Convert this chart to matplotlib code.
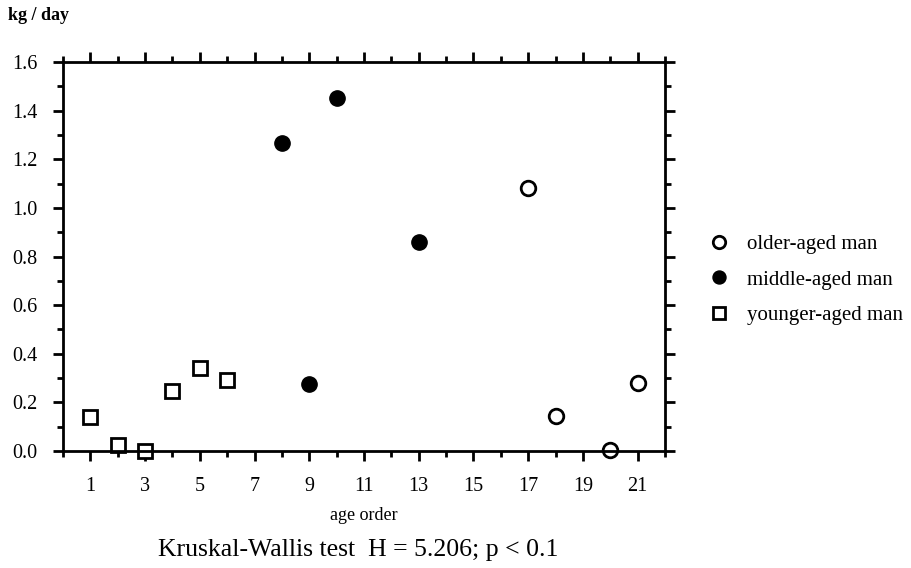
import matplotlib.pyplot as plt
from matplotlib.ticker import MultipleLocator

plt.rcParams['font.family'] = ['Liberation Serif', 'DejaVu Serif']

# data
young_x = [1, 2, 3, 4, 5, 6]
young_y = [0.14, 0.025, 0.0, 0.245, 0.34, 0.29]
middle_x = [8, 9, 10, 13]
middle_y = [1.265, 0.275, 1.45, 0.86]
older_x = [17, 18, 20, 21]
older_y = [1.08, 0.145, 0.005, 0.28]

x_ticks = list(range(1, 22, 2))
y_ticks = [0.0, 0.2, 0.4, 0.6, 0.8, 1.0, 1.2, 1.4, 1.6]

fig = plt.figure(figsize=(9.11, 5.68), dpi=100)
ax = fig.add_axes([63 / 911, 1 - 451 / 568, (665 - 63) / 911, (451 - 62) / 568])

ax.plot(older_x, older_y, 'o', ms=10.5, mfc='white', mec='black', mew=2.0,
        clip_on=False, label='older-aged man')
ax.plot(middle_x, middle_y, 'o', ms=11, mfc='black', mec='black',
        clip_on=False, label='middle-aged man')
ax.plot(young_x, young_y, 's', ms=10, mfc='white', mec='black', mew=2.0,
        clip_on=False, label='younger-aged man')

ax.set_xlim(0, 22)
ax.set_ylim(0, 1.6)
ax.set_xticks(x_ticks)
ax.set_yticks(y_ticks)
ax.set_yticklabels([f'{v:.1f}' for v in y_ticks])
ax.xaxis.set_minor_locator(MultipleLocator(1))
ax.yaxis.set_minor_locator(MultipleLocator(0.1))
ax.tick_params(which='both', direction='out', top=True, right=True,
               width=2, labelsize=14.5, colors='black')
ax.tick_params(which='major', length=7.5)
ax.tick_params(which='minor', length=4.5)
ax.tick_params(axis='x', pad=11)
ax.tick_params(axis='y', pad=11)
for s in ax.spines.values():
    s.set_linewidth(2)

ax.set_xlabel('age order', fontsize=13, labelpad=8)
fig.text(8 / 911, 1 - 16 / 568, 'kg / day', fontsize=13, fontweight='bold',
         va='center', ha='left')
fig.text(358 / 911, 1 - 550 / 568, 'Kruskal-Wallis test  H = 5.206; p < 0.1',
         fontsize=18.5, va='center', ha='center')

ax.legend(loc='center left', bbox_to_anchor=(1.045, 0.44), frameon=False,
          fontsize=15, markerscale=0.85, handlelength=0.8, handletextpad=0.95,
          labelspacing=0.75)

fig.savefig('out.png', dpi=100)
